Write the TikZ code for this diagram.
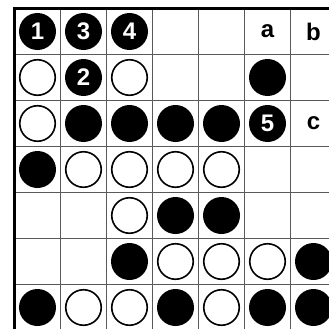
\documentclass[tikz,border=0pt]{standalone}
\usepackage{fontspec}
\setmainfont{Liberation Sans}
\newcommand\stonefont{\fontsize{24pt}{24pt}\selectfont\bfseries}
\tikzset{
  gridline/.style={black!65, line width=1pt},
  boardedge/.style={black, line width=3pt},
  stonebase/.style={circle, inner sep=0pt, font=\stonefont},
  bstone/.style={stonebase, fill=black, minimum size=37pt, text=white},
  wstone/.style={stonebase, fill=white, draw=black, line width=1.6pt, minimum size=35.5pt},
  pointlabel/.style={inner sep=0pt, font=\stonefont}
}
\begin{document}
\begin{tikzpicture}[x=46pt, y=46pt]
    % Rahmen wie im Bild
    \useasboundingbox (-0.3152,0.1848) rectangle (6.837,-6.946);
    \clip (-0.3152,0.1848) rectangle (6.837,-6.946);
    \fill[white] (-0.3152,0.1848) rectangle (6.837,-6.946);

    % Gitter
    \foreach \i in {1,...,7} {
        \draw[gridline] (\i,0) -- (\i,-7.5);
        \draw[gridline] (0,-\i) -- (7.5,-\i);
    }
    % Brettrand oben und links
    \draw[boardedge] (0,-7.5) -- (0,0) -- (7.5,0);

    % schwarze Steine (Spalte/Zeile)
    \foreach \c/\r in {6/2, 2/3, 3/3, 4/3, 5/3, 1/4, 4/5, 5/5, 3/6, 7/6, 1/7, 4/7, 6/7, 7/7}
        \node[bstone] (b\c\r) at (\c-0.5,0.5-\r) {};

    % weisse Steine
    \foreach \c/\r in {1/2, 3/2, 1/3, 2/4, 3/4, 4/4, 5/4, 3/5, 4/6, 5/6, 6/6, 2/7, 3/7, 5/7}
        \node[wstone] (w\c\r) at (\c-0.5,0.5-\r) {};

    % nummerierte Zuege
    \node[bstone] (m1) at (0.5,-0.5) {1};
    \node[bstone] (m2) at (1.5,-1.5) {2};
    \node[bstone] (m3) at (1.5,-0.5) {3};
    \node[bstone] (m4) at (2.5,-0.5) {4};
    \node[bstone] (m5) at (5.5,-2.5) {5};

    % Punkte a, b, c
    \node[pointlabel] (pa) at (5.5,-0.5) {a};
    \node[pointlabel] (pb) at (6.5,-0.5) {b};
    \node[pointlabel] (pc) at (6.5,-2.5) {c};
\end{tikzpicture}
\end{document}
